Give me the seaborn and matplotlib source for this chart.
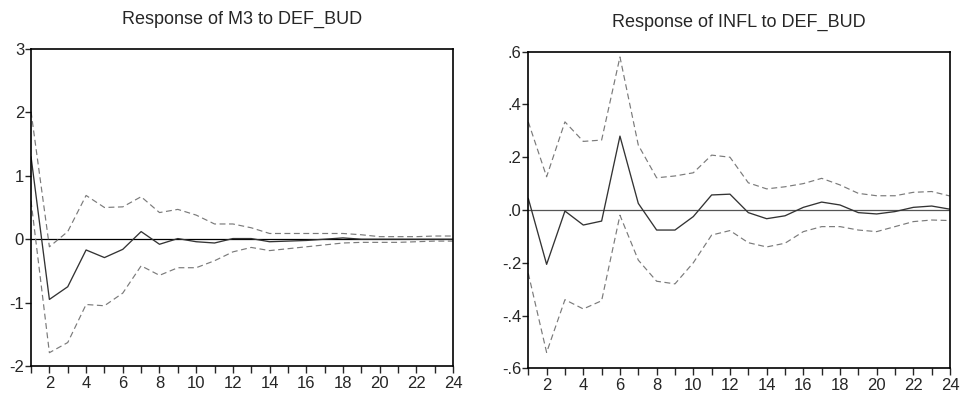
import numpy as np
import pandas as pd
import matplotlib
matplotlib.use("Agg")
import matplotlib.pyplot as plt
from matplotlib.ticker import FuncFormatter, MultipleLocator
import seaborn as sns

# Horizonte dos impulsos
periodos = list(range(1, 25))

# Resposta de M3 a DEF_BUD
m3_resp = [1.30, -0.95, -0.75, -0.17, -0.29, -0.16, 0.12, -0.08, 0.01, -0.04, -0.06, 0.01,
           0.01, -0.04, -0.03, -0.02, 0.00, 0.02, 0.00, 0.00, 0.00, 0.00, 0.00, 0.00]
m3_sup = [2.01, -0.12, 0.12, 0.69, 0.50, 0.51, 0.67, 0.42, 0.47, 0.38, 0.24, 0.24,
          0.18, 0.09, 0.09, 0.09, 0.09, 0.09, 0.07, 0.04, 0.04, 0.04, 0.05, 0.05]
m3_inf = [0.60, -1.79, -1.63, -1.03, -1.05, -0.85, -0.42, -0.57, -0.45, -0.45, -0.34, -0.20,
          -0.13, -0.18, -0.15, -0.12, -0.09, -0.06, -0.05, -0.05, -0.05, -0.04, -0.03, -0.03]

# Resposta de INFL a DEF_BUD
infl_resp = [0.044, -0.206, -0.004, -0.057, -0.042, 0.280, 0.025, -0.076, -0.076, -0.025, 0.057, 0.060,
             -0.010, -0.033, -0.022, 0.010, 0.030, 0.019, -0.010, -0.015, -0.006, 0.010, 0.015, 0.003]
infl_sup = [0.334, 0.126, 0.334, 0.260, 0.265, 0.580, 0.246, 0.122, 0.129, 0.141, 0.208, 0.200,
            0.103, 0.080, 0.088, 0.100, 0.120, 0.095, 0.063, 0.054, 0.054, 0.067, 0.070, 0.053]
infl_inf = [-0.240, -0.540, -0.340, -0.375, -0.344, -0.020, -0.190, -0.270, -0.280, -0.200, -0.095, -0.078,
            -0.124, -0.140, -0.126, -0.082, -0.063, -0.063, -0.076, -0.082, -0.063, -0.044, -0.038, -0.040]

sns.set_style("ticks")
plt.rcParams['font.family'] = ['Liberation Sans', 'DejaVu Sans']

fig = plt.figure(figsize=(9.64, 3.97), dpi=100)
ax1 = fig.add_axes([0.0322, 0.0781, 0.4378, 0.7985])
ax2 = fig.add_axes([0.548, 0.0723, 0.4375, 0.7975])


def painel(ax, resp, sup, inf, titulo, ylim, ypasso, fmt, cor_zero):
    dados = pd.DataFrame({'periodo': periodos, 'resp': resp, 'sup': sup, 'inf': inf})
    ax.axhline(0, color=cor_zero, lw=0.9, zorder=1)
    sns.lineplot(data=dados, x='periodo', y='sup', ax=ax, color='#7a7a7a', lw=0.85)
    sns.lineplot(data=dados, x='periodo', y='inf', ax=ax, color='#7a7a7a', lw=0.85)
    sns.lineplot(data=dados, x='periodo', y='resp', ax=ax, color='#333333', lw=0.95)
    for l in ax.lines[1:3]:
        l.set_dashes((5, 3))
    ax.set_xlim(1, 24)
    ax.set_ylim(*ylim)
    ax.xaxis.set_major_locator(MultipleLocator(2))
    ax.xaxis.set_minor_locator(MultipleLocator(1))
    ax.yaxis.set_major_locator(MultipleLocator(ypasso))
    ax.yaxis.set_major_formatter(FuncFormatter(fmt))
    ax.tick_params(axis='x', which='both', direction='out', length=5, width=1, labelsize=12, pad=2)
    ax.tick_params(axis='y', which='major', direction='out', length=4, width=1, labelsize=12, pad=1)
    ax.set_xlabel('')
    ax.set_ylabel('')
    for s in ax.spines.values():
        s.set_visible(True)
        s.set_linewidth(1.2)
        s.set_color('black')
    ax.set_title(titulo, fontsize=13, pad=18)


painel(ax1, m3_resp, m3_sup, m3_inf, 'Response of M3 to DEF_BUD', (-2, 3), 1,
       lambda v, p: f'{v:.0f}', 'black')


def fmt_decimal(v, p):
    s = f'{v:.1f}'
    s = s.replace('0.', '.')
    if s == '-.0':
        s = '.0'
    return s


painel(ax2, infl_resp, infl_sup, infl_inf, 'Response of INFL to DEF_BUD', (-0.6, 0.6), 0.2,
       fmt_decimal, '#555555')

fig.savefig('out.png', dpi=100)
